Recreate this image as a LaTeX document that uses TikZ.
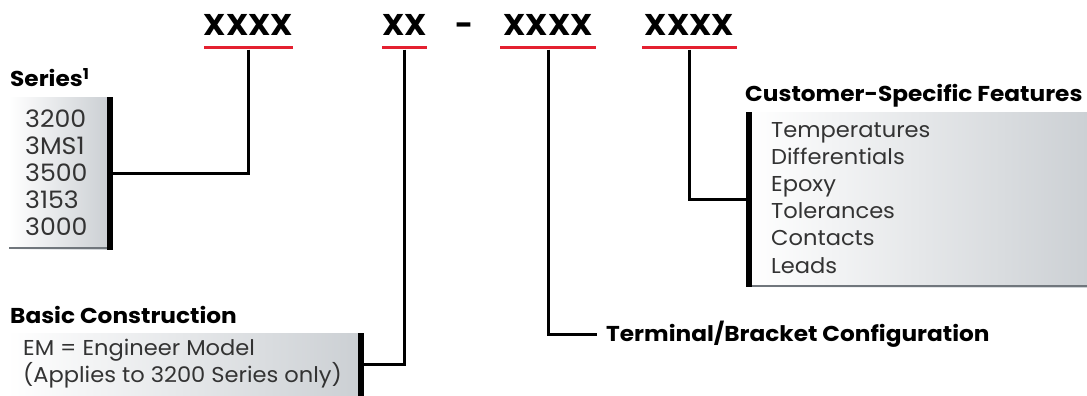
\documentclass[tikz,border=0pt]{standalone}
\usepackage{fontspec}
\setmainfont{Poppins}
\newfontfamily\titlefont[FakeStretch=1.08]{Poppins}
\newfontfamily\listfont[FakeStretch=1.05]{Poppins}
\newfontfamily\codefont[FakeStretch=1.04]{Poppins}
\definecolor{hred}{RGB}{228,32,48}
\definecolor{boxgray}{RGB}{204,208,212}
\definecolor{edgegray}{RGB}{112,118,124}
\begin{document}
\begin{tikzpicture}[x=1pt,y=-1pt,
  code/.style={font=\codefont\bfseries\fontsize{30}{30}\selectfont, inner sep=0pt, anchor=base},
  uline/.style={fill=hred, inner sep=0pt, minimum height=3pt},
  conn/.style={draw=black, line width=3pt},
  titletext/.style={font=\titlefont\bfseries\fontsize{21.5}{21.5}\selectfont, inner sep=0pt, anchor=base west},
  listtext/.style={font=\listfont\fontsize{21.5}{21.5}\selectfont, text=black!80, inner sep=0pt, anchor=base west},
  serieslist/.style={listtext, font=\listfont\fontsize{24}{24}\selectfont},
  bar/.style={fill=black, inner sep=0pt, minimum width=6pt},
  gradbox/.style={left color=white, right color=boxgray},
  boxedge/.style={draw=edgegray, line width=2pt},
]
\useasboundingbox (0,0) rectangle (1087,396);

% code letters
\node[code] (c1) at (248.5,36) {XXXX};
\node[code] (c2) at (404.5,36) {XX};
\node[code] (dash) at (465,36) {-};
\node[code] (c3) at (548,36) {XXXX};
\node[code] (c4) at (689.5,36) {XXXX};
\node[uline, minimum width=89pt] (u1) at (248.5,48) {};
\node[uline, minimum width=45pt] (u2) at (404.5,48) {};
\node[uline, minimum width=96pt] (u3) at (548,48) {};
\node[uline, minimum width=95pt] (u4) at (689.5,48) {};

% Series box
\fill[gradbox] (9,97) rectangle (107,249);
\draw[boxedge] (9,248) -- (107,248);
\node[bar, minimum height=153pt] (sbar) at (110,173.5) {};
\node[titletext] (stitle) at (10,87) {Series\textsuperscript{1}};
\foreach \t [count=\i] in {3200,3MS1,3500,3153,3000}
  \node[serieslist] (s\i) at (25,{127+27*(\i-1)}) {\t};

% Basic construction box
\fill[gradbox] (7,333) rectangle (358,396);
\node[bar, minimum height=63pt] (bbar) at (361,364.5) {};
\node[titletext] (btitle) at (10,323) {Basic Construction};
\node[listtext] (b1) at (23,355) {EM = Engineer Model};
\node[listtext] (b2) at (23,382) {(Applies to 3200 Series only)};

% Customer box
\fill[gradbox] (749,112) rectangle (1087,287);
\draw[boxedge] (749,286) -- (1087,286);
\node[bar, minimum height=175pt] (cbar) at (749,199.5) {};
\node[titletext] (ctitle) at (745,102) {Customer-Specific Features};
\foreach \t [count=\i] in {Temperatures,Differentials,Epoxy,Tolerances,Contacts,Leads}
  \node[listtext] (f\i) at (771,{137+27.2*(\i-1)}) {\t};

% Terminal
\node[titletext] (term) at (606,341) {Terminal/Bracket Configuration};

% connectors
\draw[conn] (u1.south) |- (sbar.east);
\draw[conn] (u2.south) |- (bbar.east);
\draw[conn, shorten >=9pt] (u3.south) |- ([yshift=7pt]term.base west);
\draw[conn] (u4.south) |- (cbar.west);
\end{tikzpicture}
\end{document}
